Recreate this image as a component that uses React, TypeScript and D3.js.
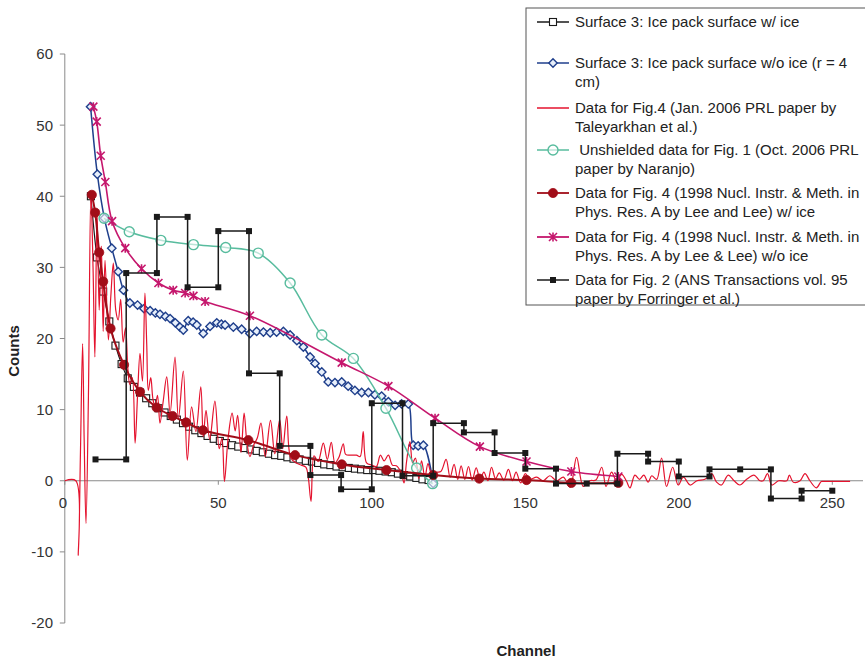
import React from "react";
import * as d3 from "d3";

type P = [number, number];

// Surface 3: Ice pack surface w/ ice
const surfIce: P[] = [
  [8.5, 40.0], [10.5, 31.4], [12.5, 26.6], [14.5, 22.4], [16.5, 19.0], [18.5, 16.4], [20.5, 14.4],
  [22.5, 13.2], [24.5, 12.4], [26.5, 11.6], [28.5, 10.9], [30.5, 10.2], [32.5, 9.6], [34.5, 9.1],
  [36.5, 8.6], [38.5, 8.1], [40.5, 7.6], [42.5, 7.1], [44.5, 6.7], [46.5, 6.3], [48.5, 5.9],
  [50.5, 5.6], [52.5, 5.3], [54.5, 5.0], [56.5, 4.8], [58.5, 4.6], [60.5, 4.4], [62.5, 4.2],
  [64.5, 4.0], [66.5, 3.8], [68.5, 3.6], [70.5, 3.5], [72.5, 3.3], [74.5, 3.1], [76.5, 3.0],
  [78.5, 2.8], [80.5, 2.7], [82.5, 2.5], [84.5, 2.3], [86.5, 2.2], [88.5, 2.0], [90.5, 1.9],
  [92.5, 1.8], [94.5, 1.7], [96.5, 1.6], [98.5, 1.5], [100.5, 1.5], [102.5, 1.4], [104.5, 1.3],
  [106.5, 1.2], [108.5, 1.0], [110.5, 0.8], [112.5, 0.6], [114.5, 0.4], [116.5, 0.2], [118.5, 0.1],
];

// Surface 3: Ice pack surface w/o ice (r = 4 cm)
const surfNoIce: P[] = [
  [8.4, 52.6], [10.6, 43.1], [12.9, 36.9], [15.3, 32.7], [17.4, 29.4], [19.1, 26.8], [21.2, 25.0],
  [23.7, 24.7], [25.8, 24.2], [27.8, 23.9], [29.5, 23.6], [31.0, 23.4], [32.8, 23.1], [34.3, 22.8],
  [36.0, 22.2], [37.5, 21.6], [38.6, 21.2], [40.2, 22.5], [41.8, 22.3], [43.0, 21.9], [45.1, 20.7],
  [47.3, 21.7], [49.5, 22.2], [51.0, 22.0], [52.2, 21.9], [54.9, 21.6], [57.6, 21.3], [60.3, 20.7],
  [62.5, 21.0], [64.7, 20.9], [66.9, 20.8], [69.0, 20.9], [71.2, 21.0], [73.4, 20.5], [75.6, 19.7],
  [77.7, 18.8], [79.9, 17.4], [81.5, 16.5], [83.7, 15.3], [85.8, 13.9], [88.0, 13.8], [90.2, 13.9],
  [92.3, 13.3], [94.5, 12.7], [96.7, 12.4], [98.9, 12.4], [101.0, 12.1], [103.2, 11.9], [105.4, 11.1],
  [107.6, 10.6], [109.7, 10.8], [111.9, 10.8], [113.5, 5.0], [115.1, 4.9], [116.8, 5.0], [120.0, -0.4],
];

// Data for Fig.4 (Jan. 2006 PRL paper by Taleyarkhan et al.)
const prl: P[] = [
  [0, 0], [3.6, 0], [4.4, -10.5], [5.1, 4], [5.8, 19.3], [6.3, 6], [6.9, -6.0], [7.7, 12], [8.5, 40.5],
  [9.2, 30], [9.8, 17.4], [10.5, 38], [11.2, 24], [11.9, 33], [12.5, 21], [13.1, 31], [14.2, 19.8],
  [15.0, 26], [15.8, 30.6], [16.6, 24], [17.4, 22.6], [18.2, 25.5], [19.0, 19.5], [19.8, 21.5],
  [20.5, 16], [21.2, 13.5], [22.0, 14.5], [22.9, 5.3], [23.7, 12], [24.5, 17.9], [25.3, 14],
  [26.1, 26.4], [26.7, 19], [27.2, 12.7], [28.0, 14.5], [28.7, 11.5], [29.4, 10.4], [30.2, 12],
  [31.0, 8.1], [32.0, 11], [33.2, 14.6], [34.3, 9.5], [35.9, 17.4], [37.0, 8.7], [38.6, 15.4],
  [39.9, 2.9], [41.3, 10.4], [42.7, 6.9], [44.3, 13.2], [45.1, 6.2], [46.0, 9.9], [47.2, 5.8],
  [48.9, 11.2], [50.3, 4.5], [51.2, 6], [52.0, -0.1], [53.2, 6], [54.5, 9.5], [55.5, 7], [56.3, 9.2],
  [57.4, 4], [58.4, 9.5], [59.3, 5.5], [60.3, 3.4], [61.5, 5], [62.7, 6], [63.9, 8.1], [65.3, 3.4],
  [67.0, 8.5], [68.4, 3.8], [70.0, 8.6], [71.0, 4.5], [72.3, 9.1], [73.6, 3.2], [75.5, 2.5],
  [77.0, 2.2], [78.5, 1.9], [79.3, 0.5], [80.2, -2.9], [81.2, 3.5], [82.5, 2.7], [84.2, 5.3],
  [85.5, 3.0], [86.8, 5.4], [88.0, 2.5], [89.3, 3.3], [90.7, 5.2], [91.5, 3.7], [93.0, 3.6],
  [95.0, 3.6], [96.2, 3.4], [97.2, 6.9], [98.3, 2.5], [100.0, 2.2], [101.5, 2.0], [102.8, 3.6],
  [104.0, 2.8], [105.4, 3.6], [106.7, 2.2], [108.0, 2.1], [109.5, 1.2], [110.5, -0.3], [111.3, 2.6],
  [112.4, 5.5], [113.3, 2.5], [114.2, 3.2], [115.3, 0.3], [116.2, 2.8], [117.3, 0.5], [118.3, 2.4],
  [119.5, 1.0], [121.0, 1.2], [122.5, 1.3], [124.2, 3.0], [125.5, 0.5], [126.8, 2.3], [128.0, 0.2],
  [129.1, 2.1], [130.3, 0.2], [131.5, 2.0], [132.7, 0.1], [134.0, 1.8], [135.3, 0.2], [136.5, 1.2],
  [137.8, 0.0], [139.0, 1.9], [140.3, 0.3], [141.5, 1.1], [143.0, 0.1], [144.5, 1.6], [145.8, 0.0],
  [147.0, 1.2], [148.5, -0.3], [150.0, 1.0], [151.5, 0.2], [153.7, 0.5], [155.8, 0.0], [158.0, 0.7],
  [160.2, 0.0], [162.4, 0.5], [164.6, -0.9], [166.7, 3.3], [168.9, -0.8], [171.0, 0.0], [173.0, 0.1],
  [174.9, 1.9], [176.3, -0.8], [178.1, 1.2], [179.7, 0.0], [181.4, 0.9], [182.9, 0.0], [184.1, -1.0],
  [185.7, 0.8], [187.2, 0.2], [188.6, 0.8], [190.0, -0.2], [191.2, 0.7], [192.8, 0.2], [194.4, 3.2],
  [196.0, -0.8], [198.0, 1.9], [199.8, -0.6], [201.5, 0.5], [203.7, -0.6], [205.9, 0.0], [208.5, 0.2],
  [210.7, 1.0], [212.3, -0.2], [213.9, -0.6], [216.1, 0.8], [218.0, 0.0], [219.9, -0.6], [222.1, 0.2],
  [224.5, 0.8], [226.4, 0.0], [227.5, 0.0], [228.9, 1.0], [230.3, -0.6], [232.5, 0.0], [235.2, 0.0],
  [236.0, 0.8], [237.3, -0.2], [239.5, 0.0], [241.1, 1.0], [242.7, 0.0], [244.8, -1.0], [246.4, -0.1],
  [247.1, -0.1], [255.8, -0.1],
];

// Unshielded data for Fig. 1 (Oct. 2006 PRL paper by Naranjo)
const naranjo: P[] = [
  [12.8, 36.9], [21.0, 35.0], [31.3, 33.8], [41.9, 33.2], [52.4, 32.8], [63.0, 32.0], [73.4, 27.8],
  [83.7, 20.5], [94.0, 17.2], [104.6, 10.2], [114.6, 1.8], [119.8, -0.4],
];

// Data for Fig. 4 (1998 NIM, Lee and Lee) w/ ice
const leeIce: P[] = [
  [8.8, 40.2], [9.9, 37.7], [11.2, 32.1], [12.5, 28.0], [14.9, 21.4], [19.3, 16.3], [24.5, 12.5],
  [29.9, 10.3], [35.1, 9.1], [39.5, 8.2], [45.0, 7.1], [59.8, 5.7], [75.0, 3.6], [90.2, 2.3],
  [104.8, 1.5], [120.0, 0.8], [135.0, 0.3], [150.4, 0.1], [165.0, -0.3], [180.3, -0.3],
];

// Data for Fig. 4 (1998 NIM, Lee & Lee) w/o ice
const leeNoIce: P[] = [
  [9.3, 52.6], [10.4, 50.5], [11.7, 45.7], [13.2, 42.0], [15.4, 36.5], [19.7, 32.7], [25.0, 29.8],
  [30.5, 27.8], [35.3, 26.8], [39.2, 26.4], [41.9, 26.0], [45.7, 25.2], [60.3, 23.2], [90.2, 16.6],
  [105.4, 13.3], [120.6, 8.8], [135.2, 4.8], [150.4, 2.7], [165.0, 1.3], [180.3, 0.6],
];

// Data for Fig. 2 (ANS Transactions vol. 95, Forringer et al.)
const forringer: P[] = [
  [10, 3.0], [20, 3.0], [20, 29.2], [30, 29.2], [30, 37.1], [40, 37.1], [40, 27.2], [50, 27.2],
  [50, 35.1], [60, 35.1], [60, 15.1], [70, 15.1], [70, 4.9], [80, 4.9], [80, 0.8], [90, 0.8],
  [90, -1.2], [100, -1.2], [100, 10.9], [110, 10.9], [110, 0.7], [120, 0.7], [120, 8.1], [130, 8.1],
  [130, 6.8], [140, 6.8], [140, 3.9], [150, 3.9], [150, 1.7], [160, 1.7], [160, -0.4], [170, -0.4],
  [180, -0.4], [180, 3.8], [190, 3.8], [190, 2.7], [200, 2.7], [200, 0.6], [210, 0.6], [210, 1.6],
  [220, 1.6], [230, 1.6], [230, -2.5], [240, -2.5], [240, -1.4], [250, -1.4],
];

const xTicks = [0, 50, 100, 150, 200, 250];
const yTicks = [-20, -10, 0, 10, 20, 30, 40, 50, 60];

const legendLines: string[][] = [
  ["Surface 3: Ice pack surface w/ ice"],
  ["Surface 3: Ice pack surface w/o ice (r = 4", "cm)"],
  ["Data for Fig.4 (Jan. 2006 PRL paper by", "Taleyarkhan et al.)"],
  [" Unshielded data for Fig. 1 (Oct. 2006 PRL", "paper by Naranjo)"],
  ["Data for Fig. 4 (1998 Nucl. Instr. & Meth. in", "Phys. Res. A by Lee and Lee) w/ ice"],
  ["Data for Fig. 4 (1998 Nucl. Instr. & Meth. in", "Phys. Res. A by Lee & Lee) w/o ice"],
  ["Data for Fig. 2 (ANS Transactions vol. 95", "paper by Forringer et al.)"],
];

const C = {
  black: "#1a1a1a",
  blue: "#1f3f8c",
  red: "#e4132e",
  teal: "#58bc9e",
  darkred: "#a10d18",
  magenta: "#c5176d",
};

const FONT = "'Liberation Sans', Arial, sans-serif";

function Marker({ kind, x, y }: { kind: string; x: number; y: number }) {
  switch (kind) {
    case "sq":
      return <rect x={x - 3.5} y={y - 3.5} width={7} height={7} fill="#fff" stroke={C.black} strokeWidth={1.1} />;
    case "dia":
      return <path d={`M${x},${y - 4.2}L${x + 4.2},${y}L${x},${y + 4.2}L${x - 4.2},${y}Z`} fill="#e8f0fb" stroke={C.blue} strokeWidth={1.4} />;
    case "circ":
      return <circle cx={x} cy={y} r={5} fill="#fff" fillOpacity={0.6} stroke={C.teal} strokeWidth={1.4} />;
    case "dot":
      return <circle cx={x} cy={y} r={4.6} fill={C.darkred} stroke={C.darkred} strokeWidth={0.8} />;
    case "star":
      return (
        <path d={`M${x - 4},${y - 4}L${x + 4},${y + 4}M${x - 4},${y + 4}L${x + 4},${y - 4}M${x},${y - 4.5}L${x},${y + 4.5}`} stroke={C.magenta} strokeWidth={1.6} fill="none" />
      );
    case "fsq":
      return <rect x={x - 3} y={y - 3} width={6} height={6} fill={C.black} />;
    default:
      return null;
  }
}

export default function App() {
  const W = 865, H = 661;
  const x = d3.scaleLinear().domain([0, 260]).range([64.8, 863]);
  const y = d3.scaleLinear().domain([-20, 60]).range([623, 54]);

  const smooth = d3.line<P>().x((d) => x(d[0])).y((d) => y(d[1])).curve(d3.curveCatmullRom.alpha(0.5));
  const straight = d3.line<P>().x((d) => x(d[0])).y((d) => y(d[1]));

  const series = [
    { data: surfIce, color: C.black, w: 1.2, marker: "sq", smooth: true },
    { data: surfNoIce, color: C.blue, w: 1.5, marker: "dia", smooth: true },
    { data: prl, color: C.red, w: 1.2, marker: "", smooth: true },
    { data: naranjo, color: C.teal, w: 1.5, marker: "circ", smooth: true },
    { data: leeIce, color: C.darkred, w: 2, marker: "dot", smooth: true },
    { data: leeNoIce, color: C.magenta, w: 1.6, marker: "star", smooth: true },
    { data: forringer, color: C.black, w: 1.5, marker: "fsq", smooth: false },
  ];

  const legendY = [22, 63, 108, 150, 193, 237, 280];

  return (
    <svg width={W} height={H} style={{ position: "absolute", left: 0, top: 0, background: "#fff" }} fontFamily={FONT}>
      <rect x={0} y={0} width={W} height={H} fill="#fff" />
      {/* axes */}
      <line x1={x(0)} x2={x(0)} y1={y(60)} y2={y(-20)} stroke="#8a8a8a" strokeWidth={1} />
      <line x1={x(0)} x2={x(260)} y1={y(0)} y2={y(0)} stroke="#8a8a8a" strokeWidth={1} />
      {yTicks.map((t) => (
        <g key={"y" + t}>
          <line x1={x(0) - 5} x2={x(0)} y1={y(t)} y2={y(t)} stroke="#8a8a8a" />
          <text x={53} y={y(t)} dy="0.36em" textAnchor="end" fontSize={15} fill="#333">{t}</text>
        </g>
      ))}
      {xTicks.map((t) => (
        <g key={"x" + t}>
          <line x1={x(t)} x2={x(t)} y1={y(0)} y2={y(0) + 4} stroke="#8a8a8a" />
          <text x={x(t) - (t === 0 ? 2 : 0)} y={503} dy="0.36em" textAnchor="middle" fontSize={15} fill="#333">{t}</text>
        </g>
      ))}
      <text transform="translate(19,351) rotate(-90)" textAnchor="middle" fontSize={15} fontWeight="bold" fill="#222">Counts</text>
      <text x={526} y={656} textAnchor="middle" fontSize={15} fontWeight="bold" fill="#222">Channel</text>

      {/* series */}
      {series.map((s, i) => (
        <g key={"s" + i}>
          <path d={(s.smooth ? smooth : straight)(s.data) || ""} fill="none" stroke={s.color} strokeWidth={s.w} strokeLinejoin="round" />
          {s.marker && s.data.map((d, j) => <Marker key={j} kind={s.marker} x={x(d[0])} y={y(d[1])} />)}
        </g>
      ))}

      {/* legend */}
      <rect x={526} y={8} width={360} height={297} fill="#fff" stroke="#555" strokeWidth={1} />
      {series.map((s, i) => (
        <g key={"l" + i}>
          <line x1={537} x2={569} y1={legendY[i]} y2={legendY[i]} stroke={s.color} strokeWidth={s.w > 1.5 ? 1.8 : 1.5} />
          {s.marker && <Marker kind={s.marker} x={553} y={legendY[i]} />}
          {legendLines[i].map((t, k) => (
            <text key={k} x={575} y={legendY[i] + k * 19} dy="0.36em" fontSize={15} fill="#222" style={{ whiteSpace: "pre" }}>{t}</text>
          ))}
        </g>
      ))}
    </svg>
  );
}
